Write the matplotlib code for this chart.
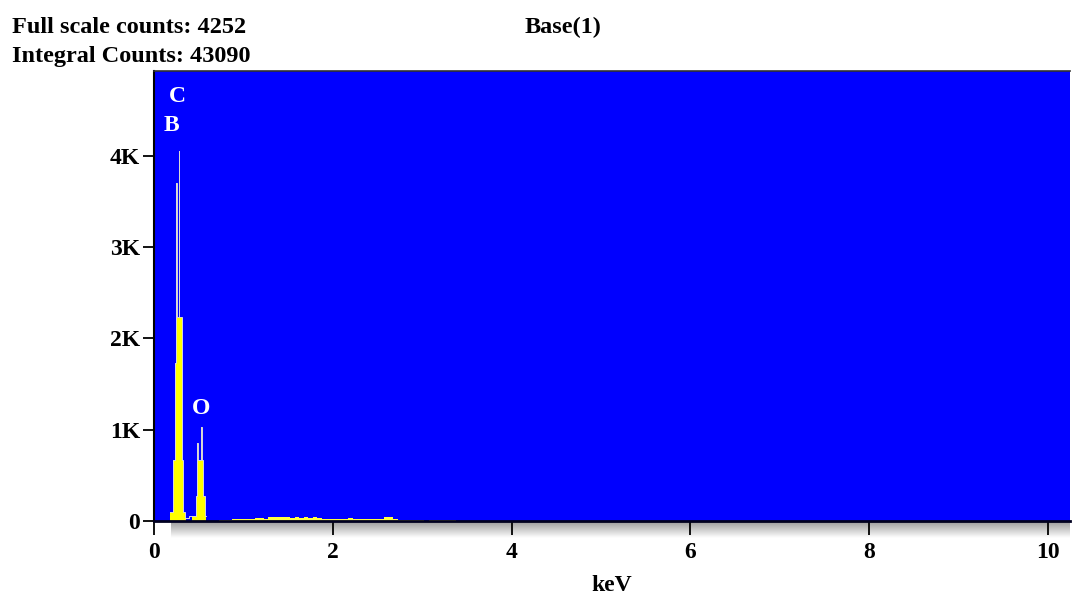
import numpy as np
import matplotlib
matplotlib.use("Agg")
import matplotlib.pyplot as plt
from matplotlib.ticker import FixedLocator, FixedFormatter

# ---- data ----
peak_energy = [0.18, 0.19, 0.20, 0.21, 0.22, 0.23, 0.24, 0.25, 0.26, 0.27, 0.28,
               0.29, 0.30, 0.31, 0.32, 0.33, 0.34, 0.35,
               0.43, 0.44, 0.45, 0.46, 0.47, 0.48, 0.49, 0.50, 0.51, 0.52, 0.53,
               0.54, 0.55, 0.56, 0.57, 0.58]
peak_counts = [100, 100, 100, 100, 670, 670, 1730, 3700, 2230, 2230, 4050,
               2230, 2230, 2230, 670, 100, 100, 30,
               50, 50, 50, 50, 270, 270, 860, 670, 670, 670, 1025,
               670, 270, 270, 50, 50]

noise_energy = [0.75, 0.80, 0.85, 0.90, 0.95, 1.00, 1.05, 1.10, 1.15, 1.20, 1.25,
                1.30, 1.35, 1.40, 1.45, 1.50, 1.55, 1.60, 1.65, 1.70, 1.75, 1.80,
                1.85, 1.90, 1.95, 2.00, 2.05, 2.10, 2.15, 2.20, 2.25, 2.30, 2.35,
                2.40, 2.45, 2.50, 2.55, 2.60, 2.65, 2.70, 2.75, 2.80, 2.85, 2.90,
                2.95, 3.00, 3.05, 3.10, 3.15, 3.20, 3.25, 3.30, 3.35]
noise_counts = [15, 15, 10, 20, 20, 20, 20, 25, 35, 30, 25,
                40, 40, 40, 40, 40, 35, 40, 35, 40, 35, 40,
                35, 20, 20, 20, 20, 20, 25, 35, 20, 20, 20,
                20, 20, 20, 20, 45, 45, 20, 15, 15, 15, 10,
                15, 15, 0, 15, 15, 15, 10, 15, 10]

element_labels = ["C", "B", "O"]
element_energy = [0.26, 0.19, 0.53]
element_height = [4650, 4330, 1230]

x_ticks = [0, 2, 4, 6, 8, 10]
y_ticks = [0, 1000, 2000, 3000, 4000]
y_tick_labels = ["0", "1K", "2K", "3K", "4K"]

full_scale = 4252
integral_counts = 43090
title = "Base(1)"

# ---- figure ----
W, H = 1072, 597
fig = plt.figure(figsize=(W / 100, H / 100), dpi=100)
FONT = ["Liberation Serif", "DejaVu Serif"]
FS = 17
FS_HEAD = 17.5

ax_l, ax_r, ax_t, ax_b = 154, 1070, 71, 521
ax = fig.add_axes([ax_l / W, 1 - ax_b / H, (ax_r - ax_l) / W, (ax_b - ax_t) / H])
ax.set_facecolor("#0000FF")
ax.set_xlim(0, 10.246)
ax.set_ylim(0, 4930)

# shadow under the plot
sh = fig.add_axes([171 / W, 1 - 538 / H, (1070 - 171) / W, 16 / H], zorder=-1)
grad = np.linspace(0.62, 1.0, 64).reshape(-1, 1)
sh.imshow(grad, aspect="auto", cmap="gray", vmin=0, vmax=1, extent=[0, 1, 0, 1])
sh.set_axis_off()

ax.bar(noise_energy, noise_counts, width=0.05, color="#FFFF40", linewidth=0)
ax.bar(peak_energy, peak_counts, width=0.0105, color="#FFFF00", linewidth=0)
ax.plot(peak_energy, peak_counts, color="#d8d8d8", lw=0.7, drawstyle="steps-mid")

for lab, e, h in zip(element_labels, element_energy, element_height):
    ax.text(e, h, lab, color="white", fontsize=FS, fontweight="bold",
            family=FONT, ha="center", va="center")

ax.xaxis.set_major_locator(FixedLocator(x_ticks))
ax.xaxis.set_major_formatter(FixedFormatter([str(t) for t in x_ticks]))
ax.yaxis.set_major_locator(FixedLocator(y_ticks))
ax.yaxis.set_major_formatter(FixedFormatter(y_tick_labels))
ax.tick_params(axis="x", direction="out", length=10, width=1.3, pad=5, colors="black")
ax.tick_params(axis="y", direction="out", length=8, width=1.3, pad=2, colors="black")
for lbl in ax.get_xticklabels() + ax.get_yticklabels():
    lbl.set_fontfamily(FONT)
    lbl.set_fontweight("bold")
    lbl.set_fontsize(FS)

ax.spines["right"].set_visible(False)
ax.spines["top"].set_color("#303030")
ax.spines["top"].set_linewidth(1.2)
ax.spines["left"].set_linewidth(1.5)
ax.spines["bottom"].set_linewidth(2.0)
ax.spines["bottom"].set_color("#000020")

ax.set_xlabel("keV", fontsize=FS, fontweight="bold", family=FONT, labelpad=9)

fig.text(12 / W, 1 - 33 / H, f"Full scale counts: {full_scale}", fontsize=FS_HEAD,
         fontweight="bold", family=FONT, ha="left", va="baseline")
fig.text(12 / W, 1 - 62 / H, f"Integral Counts: {integral_counts}", fontsize=FS_HEAD,
         fontweight="bold", family=FONT, ha="left", va="baseline")
fig.text(563 / W, 1 - 33 / H, title, fontsize=FS_HEAD, fontweight="bold",
         family=FONT, ha="center", va="baseline")

fig.savefig("out.png", dpi=100, facecolor="white")
